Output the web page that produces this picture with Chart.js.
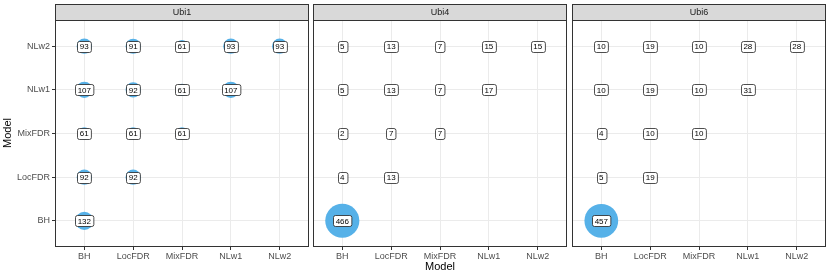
<!DOCTYPE html>
<html>
<head>
<meta charset="utf-8">
<script src="https://cdn.jsdelivr.net/npm/chart.js@4.4.1/dist/chart.umd.min.js"></script>
<style>
  body { margin: 0; background: #fff; }
  #wrap { position: relative; width: 830px; height: 277px; font-family: "Liberation Sans", Arial, sans-serif; }
  #wrap canvas { position: absolute; top: 0; }
  .title { position: absolute; font-size: 11px; color: #000; white-space: nowrap; }
</style>
</head>
<body>
<div id="wrap">
  <canvas id="panel1" width="310" height="277" style="left:0px"></canvas>
  <canvas id="panel2" width="256" height="277" style="left:312px"></canvas>
  <canvas id="panel3" width="256" height="277" style="left:571px"></canvas>
  <div class="title" style="left:440px; top:260px; transform:translateX(-50%);">Model</div>
  <div class="title" style="left:7px; top:133px; transform:translate(-50%,-50%) rotate(-90deg);">Model</div>
</div>
<script>
// categories (same on both axes)
const models = ["BH", "LocFDR", "MixFDR", "NLw1", "NLw2"];
const panelNames = ["Ubi1", "Ubi4", "Ubi6"];

// counts per panel: one row per y model (BH -> NLw2), columns are x models
const ubi1Counts = [[132], [92, 92], [61, 61, 61], [107, 92, 61, 107], [93, 91, 61, 93, 93]];
const ubi4Counts = [[466], [4, 13], [2, 7, 7], [5, 13, 7, 17], [5, 13, 7, 15, 15]];
const ubi6Counts = [[457], [5, 19], [4, 10, 10], [10, 19, 10, 31], [10, 19, 10, 28, 28]];

const FONT = '"Liberation Sans", Arial, sans-serif';
const bubbleColor = "#56B1E8";

// turn a count matrix into bubble points
function toPoints(counts) {
  const pts = [];
  counts.forEach((row, yi) => {
    row.forEach((v, xi) => {
      pts.push({ x: xi, y: yi, r: 0.79 * Math.sqrt(v), v: v });
    });
  });
  return pts;
}

function roundRect(ctx, x, y, w, h, r) {
  ctx.beginPath();
  ctx.moveTo(x + r, y);
  ctx.lineTo(x + w - r, y);
  ctx.arcTo(x + w, y, x + w, y + r, r);
  ctx.lineTo(x + w, y + h - r);
  ctx.arcTo(x + w, y + h, x + w - r, y + h, r);
  ctx.lineTo(x + r, y + h);
  ctx.arcTo(x, y + h, x, y + h - r, r);
  ctx.lineTo(x, y + r);
  ctx.arcTo(x, y, x + r, y, r);
  ctx.closePath();
}

// labels on top of the bubbles
const labelPlugin = {
  id: "labels",
  afterDatasetsDraw(chart) {
    const ctx = chart.ctx;
    const meta = chart.getDatasetMeta(0);
    const data = chart.data.datasets[0].data;
    ctx.save();
    ctx.font = "8px " + FONT;
    ctx.textAlign = "center";
    ctx.textBaseline = "middle";
    meta.data.forEach((el, i) => {
      const txt = String(data[i].v);
      const w = ctx.measureText(txt).width + 5;
      const h = 11;
      const x = Math.round(el.x - w / 2) + 0.5;
      const y = Math.round(el.y - h / 2) + 0.5;
      roundRect(ctx, x, y, w, h, 2);
      ctx.fillStyle = "#fff";
      ctx.fill();
      ctx.lineWidth = 0.8;
      ctx.strokeStyle = "#222";
      ctx.stroke();
      ctx.fillStyle = "#000";
      ctx.fillText(txt, el.x, el.y + 0.5);
    });
    ctx.restore();
  }
};

// panel border + facet strip
const stripPlugin = {
  id: "strip",
  afterDraw(chart, args, opts) {
    const ctx = chart.ctx;
    const a = chart.chartArea;
    ctx.save();
    ctx.fillStyle = "#d9d9d9";
    ctx.fillRect(a.left, 4, a.right - a.left, a.top - 4);
    ctx.strokeStyle = "#333";
    ctx.lineWidth = 1;
    ctx.strokeRect(a.left + 0.5, 4.5, a.right - a.left - 1, a.top - 4);
    ctx.strokeRect(a.left + 0.5, a.top + 0.5, a.right - a.left - 1, a.bottom - a.top - 1);
    ctx.fillStyle = "#1a1a1a";
    ctx.font = "9px " + FONT;
    ctx.textAlign = "center";
    ctx.textBaseline = "middle";
    ctx.fillText(opts.title, (a.left + a.right) / 2, (a.top + 4) / 2 + 0.5);
    ctx.restore();
  }
};

function catTicks(scale) {
  scale.ticks = models.map((m, i) => ({ value: i }));
}

function makePanel(canvasId, title, counts, showY) {
  return new Chart(document.getElementById(canvasId), {
    type: "bubble",
    data: {
      datasets: [{
        data: toPoints(counts),
        backgroundColor: bubbleColor,
        borderWidth: 0,
        hoverBorderWidth: 0
      }]
    },
    options: {
      responsive: false,
      animation: false,
      devicePixelRatio: 1,
      events: [],
      layout: {
        autoPadding: false,
        padding: { top: 20, left: showY ? 0 : 1, right: 1, bottom: 0 }
      },
      plugins: {
        legend: { display: false },
        tooltip: { enabled: false },
        strip: { title: title }
      },
      scales: {
        x: {
          type: "linear",
          min: -0.6,
          max: 4.6,
          afterBuildTicks: catTicks,
          afterFit: (s) => { s.height = 30; s.paddingLeft = 0; s.paddingRight = 0; },
          border: { display: false },
          grid: { color: "#ebebeb", lineWidth: 1, tickLength: 3, tickColor: "#333", drawTicks: true },
          ticks: {
            padding: 1,
            maxRotation: 0,
            autoSkip: false,
            color: "#4d4d4d",
            font: { family: FONT, size: 9 },
            callback: (v) => models[v]
          }
        },
        y: {
          type: "linear",
          min: -0.6,
          max: 4.6,
          afterBuildTicks: catTicks,
          afterFit: (s) => { s.width = showY ? 55 : 0; s.paddingTop = 0; s.paddingBottom = 0; },
          border: { display: false },
          grid: { color: "#ebebeb", lineWidth: 1, tickLength: 3, tickColor: "#333", drawTicks: showY },
          ticks: {
            display: showY,
            padding: 2,
            autoSkip: false,
            color: "#4d4d4d",
            font: { family: FONT, size: 9 },
            callback: (v) => models[v]
          }
        }
      }
    },
    plugins: [labelPlugin, stripPlugin]
  });
}

makePanel("panel1", panelNames[0], ubi1Counts, true);
makePanel("panel2", panelNames[1], ubi4Counts, false);
makePanel("panel3", panelNames[2], ubi6Counts, false);
</script>
</body>
</html>
